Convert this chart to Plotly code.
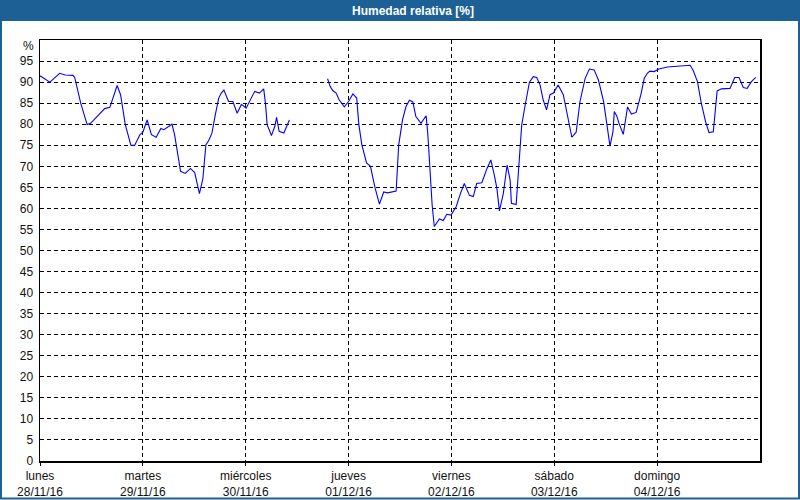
import pandas as pd
import plotly.graph_objects as go

# Hours since lunes 28/11/16 00:00 and relative humidity (%)
hours = [0, 2.3, 4.6, 5.9, 7.7, 8.1, 9.5, 11, 11.8, 15.1, 16.3, 18, 18.8, 19.9, 21.2, 22.1,
         23.3, 24, 25, 26, 27.1, 28.2, 28.9, 29.9, 30.8, 31.4, 32.8, 33.9, 35.1, 36.1, 36.6,
         37.2, 38, 38.7, 39.4, 40.1, 40.9, 41.7, 42.3, 42.9, 44, 45, 46, 47, 48.1, 49.5, 50.1,
         51.2, 52.2, 52.6, 53, 54, 54.8, 55.2, 55.8, 56.9, 57.6, 58.2,
         62.5,
         67.1, 67.7, 68.3, 69.1, 69.8, 71, 72, 73, 73.9, 74.4, 75.1, 76.2, 77.1, 78.2, 79.2,
         80.2, 81.1, 83.1, 83.7, 84.6, 85.4, 86.2, 87, 87.7, 88.9, 90.1, 90.5, 91.5, 92,
         93.2, 94.1, 94.9, 95.9, 97.1, 98.1, 99, 100.2, 101.1, 101.9, 103.1, 104.3, 105.2,
         106, 106.6, 107.2, 108.1, 109, 109.7, 110, 111.1, 111.8, 112.4, 113.2, 114.2, 115.1,
         115.9, 116.7, 117.4, 118.2, 119, 119.8, 120.9, 122.1, 122.9, 124.1, 125.1, 126,
         127.2, 128.2, 129.3, 130.3, 131.5, 132.3, 133, 133.7, 134, 134.6, 135.1, 136.1,
         137.1, 138, 139.1, 140.2, 141, 141.7, 142.3, 143.3, 144.4, 146.4, 148.7, 151.7,
         152.4, 153.4, 154.3, 155.3, 156.1, 157.1, 158, 159, 161, 162.1, 163.1, 164.1, 165,
         166, 167]
humidity = [91.5, 90, 92.1, 91.7, 91.6, 91.1, 85, 79.9, 80.2, 83.7, 84, 89.2, 87, 79.9, 75, 75,
            77.5, 78.1, 81, 77.5, 76.9, 79, 78.7, 79.5, 80, 77.5, 68.8, 68.3, 69.5, 68.5, 65.9,
            63.5, 67, 75.1, 76.2, 77.8, 82.2, 86.2, 87.4, 88.1, 85.4, 85.4, 82.6, 84.7, 83.8,
            86.6, 87.8, 87.4, 88.4, 85, 79.9, 77.3, 79.5, 81.6, 78.3, 77.9, 79.7, 81,
            None,
            90.8, 89, 88, 87.4, 85.8, 84.1, 85.4, 87.2, 86.2, 79.9, 75.1, 70.8, 70, 64.8, 61,
            63.9, 63.7, 64.1, 75.1, 81.1, 84.2, 85.7, 85.3, 81.8, 80.2, 82, 77.5, 60.8, 55.7,
            57.5, 57.1, 58.6, 58.4, 60.4, 63.5, 65.9, 63.1, 62.8, 65.9, 66.1, 69.5, 71.5,
            67.9, 64.8, 59.4, 63.5, 70.3, 66.7, 61.2, 60.9, 71.1, 79.8, 84.5, 90, 91.3,
            91.1, 89.3, 85.8, 83.4, 87, 87.4, 89.3, 87, 83, 76.9, 78.1, 85.4,
            90.9, 93.1, 92.9, 90.5, 85.4, 79.8, 74.8, 78.3, 83, 81.9, 80.2, 77.6,
            84.1, 82.4, 82.8, 87, 90.9, 92.1, 92.6, 92.5, 93.1, 93.6, 93.8, 94,
            92.8, 90.1, 85, 80.6, 78, 78.2, 87.9, 88.4, 88.5, 91.1, 91.1, 88.7, 88.5,
            90.1, 91.1]

day_dates = ["2016-11-28", "2016-11-29", "2016-11-30", "2016-12-01", "2016-12-02",
             "2016-12-03", "2016-12-04"]
day_names = ["lunes", "martes", "miércoles", "jueves", "viernes", "sábado", "domingo"]
day_labels = ["28/11/16", "29/11/16", "30/11/16", "01/12/16", "02/12/16", "03/12/16", "04/12/16"]
y_ticks = list(range(0, 100, 5))

base = pd.Timestamp("2016-11-28 00:00")
times = [base + pd.Timedelta(hours=h) for h in hours]

fig = go.Figure()
fig.add_trace(go.Scatter(x=times, y=humidity, mode="lines",
                         line=dict(color="#0000ff", width=1.1),
                         connectgaps=False, hoverinfo="skip"))

font_family = "Liberation Sans"
H = 500
T, B = 40, 39
plot_h = H - T - B


def py(p):
    return (H - B - p) / plot_h


fig.update_layout(
    template="none",
    width=800, height=500, autosize=False,
    margin=dict(l=40, r=40, t=T, b=B, pad=0),
    paper_bgcolor="white", plot_bgcolor="white",
    showlegend=False,
    font=dict(family=font_family, size=12, color="#111111"),
    xaxis=dict(
        type="date",
        range=["2016-11-28", "2016-12-05"],
        tickvals=day_dates,
        ticktext=[f"{n}<br>{d}" for n, d in zip(day_names, day_labels)],
        tickangle=0, automargin=False,
        showgrid=True, gridcolor="black", gridwidth=1, griddash="4px,3px",
        showline=True, linecolor="black", linewidth=1.5, mirror=True,
        ticks="outside", ticklen=3, tickcolor="black",
        ticklabelstandoff=0,
        zeroline=False,
    ),
    yaxis=dict(
        range=[0, 100], automargin=False,
        tickvals=y_ticks,
        ticktext=[str(v) for v in y_ticks],
        showgrid=True, gridcolor="black", gridwidth=1, griddash="4px,3px",
        showline=True, linecolor="black", linewidth=1.5, mirror=True,
        ticks="", zeroline=False,
        ticklabelstandoff=3,
    ),
    shapes=[
        dict(type="rect", xref="paper", yref="paper",
             x0=-40 / 720, x1=760 / 720, y0=py(21), y1=py(0),
             fillcolor="#1c6096", line=dict(width=0), layer="above"),
        dict(type="rect", xref="paper", yref="paper",
             x0=-39 / 720, x1=759 / 720, y0=py(498.5), y1=py(1),
             fillcolor="rgba(0,0,0,0)", line=dict(color="#1c6096", width=2), layer="above"),
    ],
    annotations=[
        dict(text="<b>Humedad relativa [%]</b>", xref="paper", yref="paper",
             x=(413 - 40) / 720, y=py(10.5), xanchor="center", yanchor="middle",
             showarrow=False, font=dict(family=font_family, size=12, color="white")),
        dict(text="%", xref="paper", yref="paper",
             x=-4 / 720, y=py(46), xanchor="right", yanchor="middle",
             showarrow=False, font=dict(family=font_family, size=12, color="#111111")),
    ],
)

fig.write_html(
    "out.html",
    config={"responsive": False, "displayModeBar": False, "staticPlot": True},
    post_script="document.body.style.margin='0';document.body.style.overflow='hidden';",
)
